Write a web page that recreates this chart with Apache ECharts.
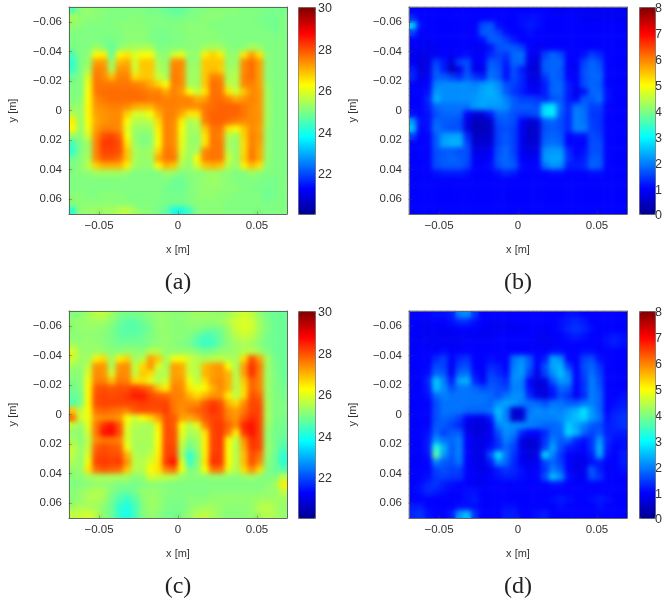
<!DOCTYPE html>
<html><head><meta charset="utf-8">
<script src="https://cdn.jsdelivr.net/npm/echarts@6/dist/echarts.min.js"></script>
<style>
html,body{margin:0;padding:0;background:#fff}
#wrap{position:relative;width:665px;height:600px;overflow:hidden;filter:blur(.35px)}
#main{position:absolute;left:0;top:0;width:665px;height:600px}
.soft{position:absolute;pointer-events:none;backdrop-filter:blur(2.6px);-webkit-backdrop-filter:blur(2.6px)}
</style></head><body>
<div id="wrap"><div id="main"></div></div>
<script>
const cellCentres = [-67.5,-62.5,-57.5,-52.5,-47.5,-42.5,-37.5,-32.5,-27.5,-22.5,-17.5,-12.5,-7.5,-2.5,2.5,7.5,12.5,17.5,22.5,27.5,32.5,37.5,42.5,47.5,52.5,57.5,62.5,67.5];
const xTicks = [-0.05,0,0.05];
const yTicks = [-0.06,-0.04,-0.02,0,0.02,0.04,0.06];
const tempTicks = [22,24,26,28,30];
const errTicks = [0,1,2,3,4,5,6,7,8];
const captions = ['(a)','(b)','(c)','(d)'];

const panelA = [
[24.6,25.1,25.2,25.1,25.1,25.0,25.0,25.0,25.0,25.0,24.9,24.9,24.8,24.7,24.7,24.9,25.0,25.0,25.1,25.1,25.1,25.1,25.0,25.0,25.0,24.9,24.9,24.9],
[25.4,25.2,25.1,25.1,25.0,25.0,25.0,25.0,25.1,25.0,25.0,25.0,24.9,24.9,24.9,25.0,25.0,25.1,25.1,25.1,25.0,25.0,25.0,25.0,24.9,24.9,24.9,25.0],
[25.2,25.1,25.0,25.0,25.0,25.0,25.1,25.1,25.1,25.1,25.0,25.0,25.0,25.0,25.1,25.1,25.1,25.1,25.0,25.0,25.0,25.0,25.0,25.0,25.0,24.9,24.8,25.0],
[25.0,25.0,25.0,25.0,25.0,25.0,25.0,25.1,25.1,25.1,25.0,24.9,24.9,25.0,25.0,25.1,25.1,25.1,25.1,25.0,25.0,25.0,25.0,25.0,25.0,25.0,24.9,25.0],
[25.0,25.0,25.0,25.0,24.9,24.9,25.0,25.1,25.1,25.1,25.0,24.9,24.9,25.0,25.0,25.1,25.1,25.1,25.1,25.1,25.0,25.0,25.0,25.0,25.0,25.0,25.0,25.0],
[24.9,25.0,25.0,25.3,25.1,24.7,25.1,25.3,25.4,25.4,25.4,25.0,25.0,25.0,25.1,25.1,25.1,25.3,25.4,25.3,25.1,25.0,25.1,25.4,25.2,25.0,25.0,25.0],
[24.5,25.0,25.1,26.3,26.4,24.7,26.3,26.5,25.9,26.2,26.2,25.2,25.1,25.8,26.0,25.2,25.2,26.4,26.7,26.4,25.2,25.2,26.5,27.2,26.5,25.1,25.0,25.0],
[24.2,25.0,25.2,27.2,27.2,25.2,26.9,27.1,25.8,26.8,26.8,25.4,25.2,27.4,27.4,25.2,25.2,26.8,26.8,26.8,25.2,25.3,27.4,27.7,27.2,25.1,25.0,25.0],
[24.3,25.0,25.4,27.5,27.4,25.4,27.3,27.3,25.8,26.8,26.8,25.5,25.3,27.5,27.4,25.3,25.3,26.8,26.9,26.7,25.3,25.4,27.4,27.7,27.2,25.1,25.0,25.0],
[24.8,25.0,25.9,27.6,27.4,26.9,27.5,27.5,26.6,26.8,26.8,25.7,25.4,27.6,27.4,25.3,25.3,26.8,27.5,27.4,25.4,25.5,27.5,27.7,27.2,25.1,25.0,25.0],
[25.0,25.0,26.1,27.6,27.6,27.6,27.6,27.6,27.5,27.4,27.1,26.7,26.2,27.5,27.4,25.4,25.3,26.8,27.7,27.6,25.6,25.5,27.4,27.5,27.2,25.2,25.0,25.0],
[25.0,25.0,26.2,27.6,27.7,27.7,27.7,27.7,27.7,27.6,27.5,27.5,27.1,27.5,27.2,26.2,25.7,26.5,27.7,27.6,26.5,25.8,26.8,27.4,27.3,25.3,25.0,25.0],
[25.0,25.1,26.2,27.4,27.6,27.7,27.7,27.7,27.7,27.7,27.6,27.6,27.5,27.5,27.5,27.5,27.1,27.2,27.7,27.7,27.5,27.1,27.3,27.5,27.3,25.3,25.0,25.0],
[25.2,25.2,26.3,27.3,27.4,27.5,27.5,27.4,27.1,27.0,27.0,27.4,27.5,27.5,27.4,27.4,27.4,27.6,27.7,27.8,27.8,27.8,27.6,27.4,27.3,25.3,25.0,25.0],
[25.6,25.2,26.3,27.2,27.3,27.4,27.4,26.7,25.9,25.8,26.2,27.0,27.5,27.5,27.1,26.5,26.5,27.6,27.8,27.8,27.8,27.8,27.6,27.4,27.3,25.3,25.0,25.0],
[26.4,25.2,26.2,27.1,27.3,27.4,27.4,26.2,25.5,25.5,25.6,26.6,27.5,27.4,26.4,25.4,25.6,27.5,27.8,27.8,27.7,27.5,27.4,27.4,27.3,25.3,25.0,25.0],
[26.3,25.2,26.1,27.2,27.5,27.5,27.4,26.0,25.3,25.2,25.3,26.4,27.5,27.4,26.2,25.3,25.4,26.8,27.6,27.6,26.5,26.2,26.8,27.4,27.2,25.2,25.0,25.0],
[25.2,25.1,25.8,27.4,28.0,28.1,27.8,26.2,25.2,25.0,25.1,26.3,27.5,27.4,26.1,25.3,25.2,26.5,27.6,27.5,25.5,25.3,26.7,27.5,27.3,25.2,25.0,25.0],
[24.4,25.0,25.3,27.5,28.2,28.2,28.0,26.5,25.3,25.0,25.1,26.2,27.5,27.4,26.0,25.3,25.2,26.5,27.6,27.6,25.4,25.2,26.6,27.5,27.2,25.2,25.0,25.0],
[24.2,25.0,25.3,27.5,28.1,28.1,28.0,26.8,25.4,25.2,25.3,26.6,27.6,27.5,25.9,25.3,25.4,27.4,27.6,27.6,25.5,25.2,26.6,27.6,27.1,25.2,25.0,25.0],
[24.8,25.1,25.4,27.4,27.9,27.9,27.7,26.8,25.4,25.2,25.3,27.1,27.6,27.6,25.7,25.2,26.3,27.5,27.6,27.6,25.8,25.2,26.7,27.6,27.1,25.2,25.0,25.0],
[25.0,25.1,25.6,26.7,27.0,27.0,27.0,26.4,25.3,25.2,25.2,26.3,27.0,26.8,25.4,25.2,25.8,26.8,27.0,26.8,25.5,25.2,26.4,26.9,26.5,25.1,25.0,25.0],
[25.0,25.1,25.1,25.3,25.3,25.3,25.3,25.2,25.0,25.0,25.0,25.0,25.3,25.2,25.0,25.1,25.1,25.2,25.3,25.2,25.1,25.0,25.0,25.3,25.1,25.0,25.0,25.0],
[25.0,25.0,25.0,25.0,25.0,25.0,25.0,25.0,25.0,25.0,25.0,25.0,25.0,24.8,24.8,25.0,25.1,25.2,25.3,25.2,25.1,25.0,25.0,25.0,25.0,24.9,24.9,25.0],
[25.0,25.0,25.0,25.0,25.0,25.0,25.0,25.0,25.0,25.0,25.0,25.0,24.9,24.8,24.8,25.0,25.1,25.2,25.2,25.2,25.1,25.1,25.0,25.0,24.9,24.9,24.9,25.0],
[25.1,25.1,25.0,25.0,25.1,25.1,25.1,25.0,25.0,25.0,25.0,25.0,24.9,24.9,24.9,25.0,25.1,25.2,25.2,25.1,25.1,25.0,25.0,25.0,25.0,24.8,24.9,25.0],
[25.1,25.1,25.1,25.1,25.1,25.1,25.1,25.1,25.0,25.0,25.0,25.0,24.9,24.9,24.9,25.0,25.1,25.1,25.1,25.1,25.0,25.0,25.0,25.0,25.0,24.9,25.0,25.0],
[24.2,25.2,25.2,25.3,25.3,25.3,25.5,25.6,25.3,25.1,25.1,24.9,24.7,24.0,24.0,24.4,25.0,25.1,25.1,25.1,25.0,25.0,25.0,25.0,25.0,25.0,25.0,25.0]
];

const panelB = [
[1.0,1.0,1.0,1.0,1.0,1.0,1.0,1.0,1.0,1.0,1.0,1.0,1.0,1.0,1.0,1.0,1.0,1.0,0.9,0.8,0.9,0.9,0.9,0.9,0.9,0.9,0.9,0.9],
[1.3,1.0,1.0,1.0,1.0,1.0,1.0,1.0,1.0,1.0,1.0,1.0,1.0,1.0,1.1,1.1,1.1,1.0,1.0,1.0,1.0,1.0,0.9,0.9,0.9,0.9,0.9,0.9],
[2.7,1.1,1.0,1.0,1.0,1.0,1.0,1.0,1.0,1.6,1.7,1.1,1.0,1.0,1.1,1.2,1.1,1.0,1.0,1.0,1.0,1.0,1.0,1.0,1.0,1.0,1.0,1.0],
[1.5,1.0,1.0,1.0,1.0,1.0,1.0,1.0,1.0,1.7,1.7,1.5,1.1,1.0,1.0,1.1,1.0,1.0,1.0,1.0,1.0,1.0,1.0,1.0,1.0,1.0,1.0,1.0],
[1.0,0.9,0.9,1.0,1.0,1.0,1.0,1.0,1.0,1.1,1.7,1.7,1.5,1.2,1.0,1.0,1.0,1.0,1.0,1.0,1.0,1.0,1.0,1.0,1.0,1.0,1.0,1.0],
[0.9,0.9,0.9,0.9,1.0,1.0,1.0,1.0,0.9,0.9,1.1,1.6,1.7,1.7,1.5,1.0,0.9,0.9,1.0,1.0,1.0,1.0,1.0,1.0,1.0,1.0,1.0,1.0],
[0.9,0.8,0.8,0.9,1.0,0.9,1.0,1.1,0.9,1.0,1.3,1.5,1.4,1.8,1.9,0.9,0.8,1.5,1.8,1.6,1.0,1.0,1.1,1.5,1.3,1.0,1.0,1.0],
[0.9,0.7,0.8,1.5,1.2,0.7,1.5,1.6,0.9,1.0,1.7,1.6,1.2,1.8,1.8,0.8,0.7,1.7,1.8,1.8,1.0,1.0,1.5,1.8,1.6,1.0,1.0,1.0],
[1.2,0.7,0.8,1.7,1.2,0.4,0.8,1.6,0.8,0.8,1.8,1.7,1.1,1.6,1.2,0.7,0.6,1.7,1.8,1.7,0.9,0.9,1.6,1.8,1.7,1.0,1.0,1.0],
[1.3,0.8,0.9,1.7,1.7,1.5,1.3,1.7,1.4,1.2,1.9,1.7,1.1,1.6,1.3,0.8,0.7,1.4,1.8,1.7,1.0,1.0,1.6,1.8,1.8,1.0,1.0,1.0],
[1.0,0.9,1.0,2.0,2.1,2.1,2.1,2.1,2.0,2.2,2.3,2.1,1.6,1.5,1.3,0.9,0.8,1.2,1.8,1.8,1.2,1.0,1.6,1.8,1.7,1.0,1.0,1.0],
[1.0,1.0,1.1,2.2,2.1,2.1,2.1,2.1,2.1,2.3,2.4,2.2,1.7,1.4,1.2,1.0,0.9,1.2,1.8,1.8,1.2,0.8,1.1,1.8,1.8,1.1,1.0,1.0],
[1.0,1.0,1.3,2.4,2.1,2.1,2.1,2.1,2.2,2.3,2.3,2.3,2.0,1.7,1.5,1.5,1.4,1.3,1.6,1.7,1.2,1.0,1.7,1.7,1.9,1.1,1.0,1.0],
[1.0,1.0,1.2,1.8,1.9,1.9,1.9,1.9,2.2,2.3,2.2,2.2,2.1,1.7,1.7,1.7,1.6,2.7,2.8,1.8,1.3,1.9,1.8,1.5,1.5,1.0,1.0,1.0],
[1.1,1.0,1.1,1.6,1.8,1.8,1.8,1.0,0.7,0.7,1.2,1.8,1.8,1.6,1.5,1.5,1.6,2.8,2.9,1.7,1.3,2.0,1.9,1.4,1.4,1.0,1.0,1.0],
[2.2,1.1,1.1,1.8,1.7,1.7,1.6,0.8,0.4,0.4,0.6,1.6,1.7,1.6,1.0,0.6,0.7,1.7,1.8,1.6,1.3,2.0,1.9,1.5,1.4,1.0,1.0,1.0],
[2.5,1.0,1.1,1.9,1.7,1.6,1.6,0.7,0.4,0.4,0.5,1.5,1.6,1.5,0.9,0.5,0.6,1.6,1.7,1.6,1.3,2.0,2.0,1.5,1.4,1.0,1.0,1.0],
[1.5,1.0,1.0,1.7,2.2,2.3,2.3,1.3,0.5,0.5,0.6,1.5,1.7,1.5,0.9,0.5,0.6,1.7,1.8,1.7,1.0,1.1,1.1,1.6,1.5,1.0,1.0,1.0],
[1.0,1.0,1.0,1.7,2.3,2.4,2.4,1.5,0.6,0.6,0.7,1.5,1.7,1.5,0.9,0.6,0.7,1.8,1.9,1.8,1.0,1.0,1.0,1.6,1.6,1.0,1.0,1.0],
[1.0,1.0,1.0,1.6,1.7,1.7,1.6,1.6,0.8,0.8,0.9,1.6,1.8,1.5,0.9,0.7,0.8,2.1,2.2,2.2,1.3,1.0,1.1,1.6,1.6,1.0,1.0,1.0],
[1.0,1.0,1.0,1.6,1.7,1.8,1.7,1.6,0.9,0.9,1.0,1.7,1.8,1.6,1.0,0.9,0.9,2.2,2.3,2.3,1.4,1.1,1.2,1.7,1.7,1.0,1.0,1.0],
[1.0,1.0,1.0,1.6,1.7,1.7,1.7,1.5,1.0,1.0,1.1,1.6,1.8,1.7,1.1,1.0,1.0,1.9,2.2,2.1,1.2,1.2,1.3,1.8,1.7,1.0,1.0,1.0],
[1.0,1.0,1.0,1.1,1.2,1.2,1.2,1.1,1.0,1.0,1.0,1.1,1.3,1.2,1.0,1.0,1.0,1.0,1.1,1.1,1.0,1.0,1.0,1.1,1.1,1.0,1.0,1.0],
[1.0,1.0,1.0,1.0,1.0,1.0,1.0,1.0,1.0,1.0,1.0,1.0,1.0,1.0,1.0,1.0,1.0,1.0,1.0,1.0,1.0,1.0,1.0,1.0,1.0,1.0,1.0,1.0],
[1.0,1.0,1.0,1.0,1.0,1.0,1.0,1.0,1.0,1.0,1.0,1.0,1.0,1.0,1.0,1.0,1.0,1.0,1.0,1.0,1.0,1.0,1.0,1.0,1.0,1.0,1.0,1.0],
[1.0,1.0,1.0,1.0,1.0,1.0,1.0,1.0,1.0,1.0,1.0,1.0,1.0,1.0,1.0,1.0,1.0,1.0,1.0,1.0,1.0,1.0,1.0,1.0,1.0,1.0,1.0,1.0],
[1.0,1.0,1.0,1.0,1.0,1.0,1.0,1.0,1.0,1.0,1.0,1.0,1.0,1.0,1.0,1.0,1.0,1.0,1.0,1.0,1.0,1.0,1.0,1.0,1.0,1.0,1.0,1.0],
[1.0,1.0,1.0,1.0,1.0,1.0,1.0,1.0,1.0,1.0,1.0,1.0,1.0,1.0,1.0,1.0,1.0,1.0,1.0,1.0,1.0,1.0,1.0,1.0,1.0,1.0,1.0,1.0]
];

const panelC = [
[25.0,25.1,25.3,25.6,25.6,25.3,25.0,24.9,24.9,25.0,25.1,25.2,25.2,25.1,25.1,25.2,25.3,25.3,25.2,25.2,25.3,25.6,25.8,25.6,25.2,24.9,24.8,24.8],
[25.2,25.2,25.3,25.3,25.3,25.1,24.8,24.6,24.6,24.8,25.0,25.2,25.2,25.1,25.1,25.2,25.2,25.2,25.2,25.3,25.5,25.8,25.9,25.8,25.3,25.0,24.8,24.8],
[25.1,25.2,25.2,25.2,25.1,25.0,24.7,24.6,24.6,24.7,24.9,25.2,25.2,25.1,25.1,25.1,25.1,24.9,24.8,24.9,25.3,25.7,25.9,25.8,25.3,25.0,24.8,24.8],
[25.1,25.1,25.2,25.1,25.1,24.9,24.7,24.7,24.7,24.8,25.0,25.1,25.2,25.1,25.1,25.0,24.7,24.4,24.5,24.8,25.2,25.5,25.7,25.6,25.2,24.9,24.8,24.8],
[25.3,25.2,25.2,25.2,25.1,25.0,24.9,24.9,24.9,24.9,25.0,25.2,25.2,25.1,25.0,24.9,24.5,24.3,24.4,24.8,25.1,25.3,25.4,25.3,25.1,24.9,24.8,24.8],
[25.9,25.3,25.2,25.3,25.2,25.1,25.1,25.2,25.2,25.1,25.6,25.5,25.2,25.2,25.2,25.2,25.1,24.9,25.0,25.2,25.2,25.3,25.5,25.6,25.3,25.0,24.8,24.8],
[25.8,25.3,25.3,26.4,26.6,25.3,26.4,26.7,25.3,25.6,27.2,26.8,25.4,26.1,26.2,25.8,25.5,25.4,25.6,25.6,25.5,25.4,26.6,28.0,27.2,25.4,24.9,24.8],
[25.3,25.2,25.6,27.3,27.3,25.4,27.3,27.4,25.6,26.6,27.3,25.9,25.4,27.2,27.1,25.7,25.5,26.9,27.2,27.3,26.2,25.4,27.2,28.3,27.6,25.3,24.9,24.8],
[25.1,25.1,25.9,27.4,27.3,25.8,27.4,27.4,25.6,26.8,26.6,25.5,25.5,27.2,27.1,25.8,25.5,27.0,27.2,27.3,27.0,25.5,27.2,28.3,27.5,25.3,25.0,24.8],
[25.0,25.1,26.1,27.5,27.5,26.9,27.6,27.5,26.6,26.6,26.0,25.5,25.8,27.3,27.3,26.1,25.6,26.6,27.3,27.4,27.0,25.5,26.8,27.8,27.5,25.3,25.0,24.8],
[24.9,25.0,26.2,27.9,28.0,27.9,28.0,28.0,28.2,28.0,27.7,26.8,26.4,27.5,27.4,26.5,26.1,26.3,27.0,27.4,27.0,25.5,26.6,27.8,27.5,25.3,25.0,24.9],
[24.7,24.9,26.3,28.0,28.1,28.0,28.1,28.2,28.5,28.5,28.1,27.9,27.8,27.5,27.5,27.0,26.6,27.0,27.3,27.3,26.4,25.6,26.6,28.0,27.8,25.3,25.0,24.9],
[24.6,24.9,26.3,28.0,28.1,28.1,28.1,28.1,28.1,28.2,28.1,28.1,28.1,27.6,27.4,27.4,27.4,27.9,28.2,28.0,27.0,26.6,27.4,28.1,28.0,25.4,25.0,25.0],
[26.8,25.6,26.2,27.7,27.8,27.7,27.6,27.5,27.9,28.0,28.0,28.0,28.2,27.6,27.3,27.6,27.8,28.0,28.3,28.1,27.4,27.2,27.6,28.1,28.1,25.4,25.0,25.0],
[27.6,25.8,26.1,27.3,27.4,27.4,27.3,26.2,25.8,26.2,26.6,27.2,28.0,27.9,27.2,27.1,27.4,27.9,28.1,28.1,27.5,27.3,27.9,28.3,28.1,25.4,25.0,24.9],
[25.6,25.2,26.0,27.6,28.3,28.6,27.9,26.0,25.5,25.4,25.4,26.4,28.0,27.9,26.2,25.5,26.0,27.5,28.1,28.2,27.8,27.4,28.4,28.6,28.1,25.3,24.9,24.9],
[25.2,25.1,25.8,27.6,28.6,28.7,28.0,25.9,25.4,25.4,25.4,26.2,28.0,28.0,26.0,25.4,25.5,26.5,28.1,28.2,27.6,26.4,28.2,28.6,28.1,25.2,24.9,24.8],
[25.4,25.1,25.6,27.4,27.6,27.6,27.5,25.9,25.4,25.4,25.4,26.2,28.0,28.0,25.8,25.1,25.3,26.4,28.1,28.2,26.3,25.6,27.3,28.3,28.1,25.2,24.9,24.7],
[25.7,25.2,25.7,27.8,28.0,27.9,27.8,26.1,25.4,25.3,25.4,26.3,28.1,28.1,25.6,24.8,25.2,26.4,28.1,28.2,26.2,25.5,27.1,28.2,28.1,25.3,24.9,24.5],
[25.6,25.2,25.9,28.0,28.1,28.0,28.0,27.0,25.5,25.4,25.6,26.4,28.1,28.2,25.4,24.2,24.9,26.4,28.2,28.2,26.2,25.5,26.9,28.0,27.7,25.2,24.8,24.2],
[25.4,25.2,26.1,28.1,28.2,28.1,28.2,27.3,25.6,25.5,25.9,26.5,28.2,28.6,26.0,24.3,25.0,26.5,28.3,28.2,26.3,25.5,26.9,28.0,27.4,25.1,24.8,24.2],
[25.2,25.2,26.5,27.7,27.9,27.8,27.7,26.8,25.5,25.5,26.3,26.5,27.5,27.7,26.1,24.9,25.1,26.2,27.6,27.6,26.0,25.4,26.6,27.4,26.6,25.0,24.8,24.6],
[25.1,25.1,25.3,25.4,25.4,25.4,25.4,25.3,25.1,25.2,25.8,25.7,25.6,25.5,25.2,25.1,25.1,25.1,25.2,25.2,25.1,25.1,25.2,25.3,25.1,25.0,25.0,25.6],
[25.0,25.0,25.1,25.2,25.2,25.1,25.0,25.0,24.9,25.0,25.1,25.1,25.0,25.0,25.0,25.0,25.0,25.0,25.0,25.0,25.0,25.0,25.0,25.0,25.0,25.1,25.3,26.4],
[25.1,25.2,25.4,25.5,25.4,25.0,24.8,24.7,24.9,25.2,25.2,25.2,25.1,25.0,25.0,25.0,25.0,25.0,25.1,25.1,25.1,25.1,25.1,25.1,25.1,25.2,25.2,25.6],
[25.1,25.2,25.4,25.5,25.3,24.9,24.5,24.3,24.6,25.1,25.3,25.2,25.0,25.0,25.0,25.1,25.1,25.1,25.2,25.2,25.2,25.2,25.2,25.2,25.3,25.3,25.3,25.3],
[25.3,25.4,25.4,25.3,25.1,24.8,24.2,24.0,24.4,25.0,25.3,25.2,25.0,24.9,24.9,25.1,25.2,25.3,25.3,25.2,25.1,25.1,25.1,25.2,25.5,25.6,25.4,25.2],
[25.6,25.7,25.8,25.6,25.1,24.8,24.2,24.0,24.4,25.0,25.2,25.1,24.9,24.9,25.0,25.2,25.5,25.6,25.4,25.2,25.1,25.1,25.1,25.2,25.4,25.5,25.4,25.2]
];

const panelD = [
[1.0,1.0,1.0,1.1,1.1,1.2,2.0,2.1,1.4,1.0,1.0,1.0,1.0,1.0,1.0,1.0,1.0,1.0,1.0,1.0,1.1,1.1,1.0,1.0,1.0,1.0,1.0,1.0],
[1.0,0.9,0.9,1.0,1.0,1.1,1.3,1.3,1.1,1.0,0.9,0.9,0.9,1.0,1.0,1.0,1.0,1.0,1.0,1.1,1.2,1.3,1.2,1.0,1.0,1.0,1.0,1.0],
[1.0,0.9,0.9,0.9,0.9,0.9,1.0,1.0,1.0,0.9,0.9,0.9,0.9,0.9,0.9,1.0,1.0,0.9,1.0,1.1,1.3,1.4,1.3,1.1,1.0,1.0,1.0,1.0],
[1.0,0.9,0.9,0.9,0.9,0.9,0.9,0.9,0.9,0.9,0.9,1.0,1.0,1.0,1.0,1.0,0.9,0.9,0.9,1.0,1.1,1.2,1.1,1.0,1.0,1.1,1.2,1.1],
[1.0,1.0,0.9,0.9,0.9,0.9,0.9,1.0,1.0,1.0,1.0,1.0,1.0,1.0,1.0,1.0,0.9,0.9,0.9,1.0,1.0,1.0,1.0,1.0,1.0,1.1,1.2,1.1],
[1.0,1.0,1.0,1.0,1.1,1.0,1.0,1.0,1.0,1.0,1.0,1.0,1.0,1.0,1.0,1.0,1.0,1.0,1.1,1.1,1.0,1.0,1.1,1.1,1.0,1.0,1.0,1.0],
[1.0,1.0,1.0,1.3,1.5,1.0,1.3,1.4,1.0,1.0,1.1,1.0,1.0,1.9,2.1,1.7,1.0,1.2,2.3,2.1,1.0,1.0,1.5,1.6,1.1,1.0,1.0,1.0],
[1.0,1.0,1.0,1.6,1.5,0.9,1.5,1.6,1.0,1.0,1.3,1.2,1.0,2.0,2.2,1.7,1.0,1.6,2.3,2.4,1.5,1.0,1.6,1.8,1.4,1.0,1.0,1.0],
[1.0,1.0,1.1,1.8,1.7,0.9,1.8,1.9,1.1,0.9,1.5,1.3,1.1,2.1,2.2,1.5,0.8,1.5,2.1,2.5,2.0,1.0,1.5,1.9,1.5,1.0,1.0,1.0],
[1.0,1.0,1.3,2.6,2.0,1.2,2.3,2.4,1.3,1.0,1.6,1.5,1.3,2.1,2.0,1.0,0.7,0.8,1.7,2.2,2.1,1.0,1.4,2.0,1.6,1.0,1.0,1.0],
[1.0,1.0,1.2,2.5,2.1,1.6,1.9,1.9,1.8,1.6,1.7,1.6,1.5,2.0,2.0,1.1,0.7,0.7,1.2,1.8,1.7,1.0,1.4,2.0,1.7,1.0,1.0,1.0],
[1.0,1.0,1.1,1.8,2.0,1.9,1.9,1.9,1.9,1.9,1.8,1.6,1.9,2.1,2.1,1.3,0.8,0.7,1.1,1.6,1.4,0.9,1.3,2.0,1.8,1.0,1.0,1.1],
[1.0,1.0,1.0,1.6,1.9,1.9,1.9,1.9,1.9,1.9,1.8,2.1,2.3,2.2,2.0,1.9,1.8,1.6,1.9,1.9,1.7,1.7,1.9,2.0,1.8,1.0,1.1,1.2],
[1.0,1.0,1.0,1.6,1.9,1.9,1.9,1.8,1.8,1.8,1.9,2.5,2.0,0.6,0.7,1.9,2.1,2.0,2.1,2.0,2.2,2.4,2.8,2.2,1.8,1.0,1.2,1.3],
[1.0,1.0,1.0,1.6,1.8,1.7,1.5,1.0,0.8,0.8,1.2,2.4,2.0,0.5,0.6,2.0,2.0,2.0,2.0,2.1,2.3,2.5,2.7,2.2,1.9,1.1,1.3,1.4],
[1.0,1.0,1.0,1.7,1.7,1.5,1.3,0.8,0.7,0.7,0.9,2.0,2.2,2.1,2.1,2.0,1.9,1.8,1.8,1.9,2.6,2.3,2.0,1.7,1.6,1.2,1.3,1.4],
[1.0,1.0,1.1,1.8,1.5,1.7,1.7,0.9,0.7,0.7,0.9,1.6,2.1,2.0,1.3,1.0,1.0,1.3,1.8,1.8,2.7,2.4,1.8,1.5,1.7,1.2,1.2,1.2],
[1.0,1.0,1.2,2.2,1.9,1.8,2.0,1.0,0.8,0.8,0.9,1.4,2.0,1.7,0.8,0.6,0.7,1.4,2.0,1.7,1.8,1.3,1.1,1.4,2.2,1.3,1.1,1.1],
[1.0,1.0,1.2,3.3,2.4,1.7,2.0,1.0,0.8,0.8,1.1,1.4,1.8,1.5,0.8,0.6,0.7,1.5,2.3,1.6,1.2,1.1,1.0,1.4,2.4,1.2,1.0,1.1],
[1.0,1.0,1.1,3.7,2.2,1.7,2.0,1.0,0.8,0.8,1.6,2.8,1.9,1.4,0.9,0.7,0.8,2.7,2.0,1.4,1.0,0.9,0.9,1.2,2.3,1.1,1.0,1.2],
[1.0,1.0,1.0,2.0,1.7,1.6,1.9,1.0,0.8,0.8,1.2,2.1,1.8,1.3,0.9,0.8,0.9,1.5,1.8,1.5,1.0,0.8,0.8,1.1,1.2,1.0,1.0,1.2],
[1.0,1.0,1.0,1.5,1.6,1.5,1.5,1.0,0.9,0.8,0.9,1.2,1.4,1.3,1.1,0.9,1.0,1.4,2.0,1.7,1.0,0.8,0.9,1.7,1.2,0.9,1.0,1.1],
[1.0,1.0,1.1,1.4,1.5,1.4,1.4,1.0,0.9,0.9,1.0,1.1,1.2,1.2,1.1,1.0,1.0,1.6,2.5,2.1,1.1,0.9,0.9,1.6,1.4,1.0,1.0,1.0],
[1.0,1.1,1.3,1.4,1.2,1.1,1.0,1.0,0.9,0.9,1.0,1.0,1.0,1.0,1.0,1.0,1.0,1.0,1.1,1.1,1.0,1.0,1.0,1.0,1.0,1.0,1.0,1.0],
[1.0,1.1,1.3,1.2,1.1,1.0,1.0,1.1,1.1,1.0,1.0,1.0,1.0,1.0,1.0,1.0,1.0,1.0,1.0,1.0,1.0,1.0,1.0,1.0,1.0,1.0,1.0,1.0],
[1.0,1.0,1.0,1.0,1.0,1.0,1.0,1.1,1.2,1.0,1.0,1.0,1.0,1.0,1.0,1.0,1.0,1.0,1.1,1.2,1.1,1.0,1.0,1.1,1.2,1.1,1.0,1.0],
[1.2,1.2,1.0,1.0,1.0,1.0,1.1,1.1,1.1,1.0,1.0,1.0,1.1,1.1,1.0,1.0,1.0,1.0,1.0,1.1,1.0,1.0,1.0,1.0,1.1,1.0,1.0,1.0],
[1.3,1.4,1.1,1.0,1.0,1.2,2.2,2.5,1.4,1.0,1.0,1.0,1.2,1.2,1.0,1.0,1.1,1.2,1.0,1.0,1.0,1.0,1.0,1.0,1.0,1.0,1.0,1.0]
];

const jet = ['#00008f','#0000ff','#0080ff','#00ffff','#80ff80','#ffff00','#ff8000','#ff0000','#800000'];
const panels = [
 {cells:panelA,left:69, top:7,  barLeft:298,min:20,max:30,ticks:tempTicks},
 {cells:panelB,left:409,top:7,  barLeft:639,min:0, max:8, ticks:errTicks},
 {cells:panelC,left:69, top:311,barLeft:298,min:20,max:30,ticks:tempTicks},
 {cells:panelD,left:409,top:311,barLeft:639,min:0, max:8, ticks:errTicks}
];
const W=218,H=207,ink='#333',edge='#666',font='"Liberation Sans",Arial,sans-serif';
const fmt=v=>v===0?'0':String(v).replace('-','\u2212');
const grid=[],xAxis=[],yAxis=[],series=[],visualMap=[],title=[];
panels.forEach((p,k)=>{
  const barW=p.barLeft===298?17:16;
  grid.push({left:p.left,top:p.top,width:W,height:H});
  xAxis.push({type:'category',gridIndex:k,position:'top',data:cellCentres,axisLabel:{show:false},axisTick:{show:false},splitLine:{show:false},axisLine:{show:true,onZero:false,lineStyle:{color:edge,width:1}},z:5,zlevel:2});
  yAxis.push({type:'category',gridIndex:k,position:'right',inverse:true,data:cellCentres,axisLabel:{show:false},axisTick:{show:false},splitLine:{show:false},axisLine:{show:true,onZero:false,lineStyle:{color:edge,width:1}},z:5,zlevel:2});
  xAxis.push({type:'value',gridIndex:k,position:'bottom',min:-0.069,max:0.069,name:'x [m]',nameLocation:'middle',nameGap:30,nameTextStyle:{color:ink,fontSize:11,fontFamily:font},
    axisLine:{show:true,onZero:false,lineStyle:{color:edge,width:1}},splitLine:{show:false},
    axisTick:{show:true,inside:true,length:3,lineStyle:{color:'#444'},customValues:xTicks},
    axisLabel:{color:ink,fontSize:11.5,fontFamily:font,margin:6,customValues:xTicks,formatter:fmt},z:5,zlevel:2});
  yAxis.push({type:'value',gridIndex:k,position:'left',inverse:true,min:-0.07,max:0.07,name:'y [m]',nameLocation:'middle',nameGap:51,nameRotate:90,nameTextStyle:{color:ink,fontSize:11,fontFamily:font},
    axisLine:{show:true,onZero:false,lineStyle:{color:edge,width:1}},splitLine:{show:false},
    axisTick:{show:true,inside:true,length:3,lineStyle:{color:'#444'},customValues:yTicks},
    axisLabel:{color:ink,fontSize:11.5,fontFamily:font,margin:7,customValues:yTicks,formatter:fmt},z:5,zlevel:2});
  const data=[];
  p.cells.forEach((row,j)=>row.forEach((v,i)=>data.push([i,j,v])));
  series.push({type:'heatmap',xAxisIndex:2*k,yAxisIndex:2*k,data,silent:true,progressive:0,animation:false,itemStyle:{borderWidth:0}});
  visualMap.push({type:'continuous',seriesIndex:k,min:p.min,max:p.max,calculable:false,realtime:false,hoverLink:false,itemWidth:barW,itemHeight:H,left:p.barLeft,top:p.top,padding:0,borderColor:edge,borderWidth:1,text:['',''],showLabel:false,inRange:{color:jet}});
  title.push({text:captions[k],left:p.left+109,top:p.top+264,textAlign:'center',padding:0,textStyle:{fontFamily:'"Liberation Serif","Times New Roman",serif',fontSize:24,fontWeight:'normal',color:'#222'}});
});
panels.forEach((p,k)=>{
  const n=grid.length, barW=p.barLeft===298?17:16;
  grid.push({left:p.barLeft,top:p.top+2,width:barW,height:H});
  xAxis.push({type:'value',gridIndex:n,show:false,min:0,max:1});
  yAxis.push({type:'value',gridIndex:n,position:'right',min:p.min,max:p.max,
    axisLine:{show:false},splitLine:{show:false},axisTick:{show:false},
    axisLabel:{color:ink,fontSize:12.5,fontFamily:font,margin:3,customValues:p.ticks}});
});
const chart=echarts.init(document.getElementById('main'),null,{renderer:'canvas',width:665,height:600});
chart.setOption({animation:false,backgroundColor:'#fff',grid,xAxis,yAxis,series,visualMap,title});
const root=chart.getDom().firstChild;
panels.forEach(p=>{
  const d=document.createElement('div');
  d.className='soft';
  d.style.cssText+=`left:${p.left+1}px;top:${p.top+1}px;width:${W-1}px;height:${H-1}px;z-index:1`;
  root.appendChild(d);
});
</script></body></html>
